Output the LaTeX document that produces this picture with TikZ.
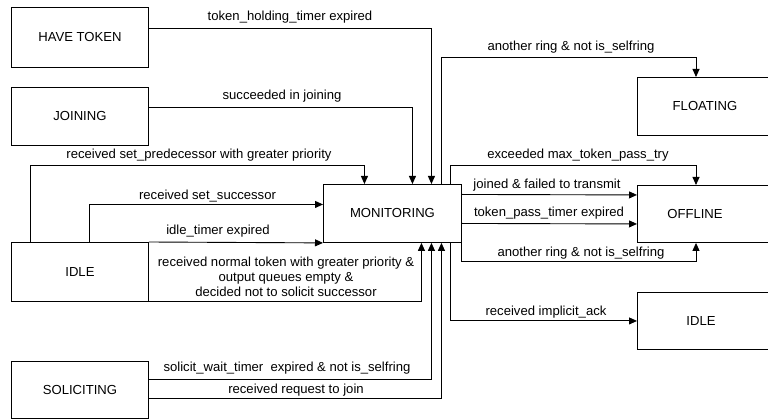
\documentclass[tikz,border=0pt]{standalone}
\usepackage{fontspec}
\setmainfont{Liberation Sans}
\usetikzlibrary{arrows.meta}
\begin{document}
\begin{tikzpicture}[x=1pt, y=-1pt,
  font=\fontsize{13.1}{15}\selectfont,
  line width=0.9pt,
  state/.style={draw, rectangle, anchor=north west, minimum width=137pt, minimum height=#1, inner sep=0pt},
  rstate/.style={draw, rectangle, anchor=north west, minimum width=170pt, minimum height=#1, inner sep=0pt},
  arr/.style={-{Triangle[length=8pt,width=7pt]}},
  lbl/.style={inner sep=0pt, align=center}]
\useasboundingbox (0,0) rectangle (768,419);

% states on the left
\node[state=60pt] (havetoken) at (11,7) {HAVE TOKEN};
\node[state=58pt] (joining) at (11,87) {JOINING};
\node[state=59pt] (idleL) at (11,242) {IDLE};
\node[state=57pt] (soliciting) at (11,361) {SOLICITING};

% central state
\node[draw, rectangle, anchor=north west, minimum width=138pt, minimum height=58pt, inner sep=0pt] (monitoring) at (323,184) {MONITORING};

% states on the right (open towards the right margin)
\node[rstate=58pt] (floating) at (637,77) {};
\node[rstate=57pt] (offline) at (637,185) {};
\node[rstate=57pt] (idleR) at (637,292) {};
\node (floatingtxt) at (705,106) {FLOATING};
\node (offlinetxt) at (695,213.5) {OFFLINE};
\node (idleRtxt) at (701,320.5) {IDLE};

% transitions into MONITORING
\draw[arr] ([yshift=9pt]havetoken.east) -| ([xshift=39pt]monitoring.north);
\draw[arr] ([yshift=9pt]joining.east) -| ([xshift=20pt]monitoring.north);
\draw[arr] ([xshift=19pt]idleL.north west) -- ++(0,-77) -| ([xshift=-28pt]monitoring.north);
\draw[arr] ([xshift=78pt]idleL.north west) |- ([yshift=9pt]monitoring.west);
\draw[arr] (idleL.north east) -- (monitoring.south west);
\draw[arr] (idleL.south east) -| ([xshift=29pt]monitoring.south);
\draw[arr] ([yshift=10.5pt]soliciting.east) -| ([xshift=39pt]monitoring.south);
\draw[arr] ([yshift=-8.5pt]soliciting.east) -| ([xshift=49pt]monitoring.south);

% transitions out of MONITORING
\draw[arr] ([xshift=49pt]monitoring.north) -- ++(0,-127) -| ([xshift=59pt]floating.north west);
\draw[arr] ([xshift=58pt]monitoring.north) -- ++(0,-19) -| ([xshift=59pt]offline.north west);
\draw[arr] ([yshift=19pt]monitoring.east) -- ([yshift=19pt]offline.west);
\draw[arr] ([yshift=-10pt]monitoring.east) -- ([yshift=-10pt]offline.west);
\draw[arr] (monitoring.south east) -- ++(0,19) -| ([xshift=59pt]offline.south west);
\draw[arr] ([xshift=58pt]monitoring.south) |- (idleR.west);

% transition labels
\node[lbl] (l1) at (290,17) {token\_holding\_timer expired};
\node[lbl] (l2) at (282,96.5) {succeeded in joining};
\node[lbl] (l3) at (199,155.5) {received set\_predecessor with greater priority};
\node[lbl] (l4) at (207.5,196.5) {received set\_successor};
\node[lbl] (l5) at (218,231.5) {idle\_timer expired};
\node[lbl] (l6) at (286,277) {received normal token with greater priority \&\\output queues empty \&\hspace*{20pt}\\decided not to solicit successor};
\node[lbl] (l7) at (287,368.5) {solicit\_wait\_timer\ \ expired \& not is\_selfring};
\node[lbl] (l8) at (296,390) {received request to join};
\node[lbl] (l9) at (571,47) {another ring \& not is\_selfring};
\node[lbl] (l10) at (578,155.5) {exceeded max\_token\_pass\_try};
\node[lbl] (l11) at (547,185) {joined \& failed to transmit};
\node[lbl] (l12) at (549,213.5) {token\_pass\_timer expired};
\node[lbl] (l13) at (581,253.5) {another ring \& not is\_selfring};
\node[lbl] (l14) at (546,312) {received implicit\_ack};
\end{tikzpicture}
\end{document}
